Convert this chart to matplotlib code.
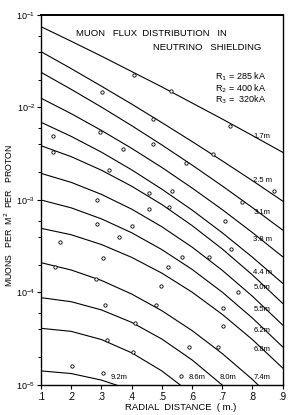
import matplotlib

matplotlib.use("Agg")
import matplotlib.pyplot as plt
from matplotlib.ticker import FixedLocator, LogLocator, NullFormatter

# radial distance grid (m) at which the curves were read
radius = [0.1, 0.2, 0.3, 0.4, 0.5, 0.6, 0.7, 0.8, 0.9]

# muons per m^2 per proton, one curve per shielding depth
flux_1_7 = [0.0747, 0.0520, 0.0359, 0.0245, 0.0167, 0.0112, 0.00751, 0.00498, 0.00328]
flux_2_5 = [0.0401, 0.0263, 0.0170, 0.0109, 0.00687, 0.00429, 0.00265, 0.00162, 0.000975]
flux_3_1 = [0.0240, 0.0157, 0.0101, 0.00637, 0.00394, 0.00239, 0.00142, 0.000828, 0.000474]
flux_3_8 = [0.0126, 0.00857, 0.00565, 0.00362, 0.00225, 0.00135, 0.000788, 0.000445, 0.000244]
flux_4_4 = [0.00692, 0.00487, 0.00329, 0.00212, 0.00131, 0.000780, 0.000443, 0.000241, 0.000126]
flux_5_0 = [0.00386, 0.00294, 0.00210, 0.00141, 0.000894, 0.000530, 0.000296, 0.000155, 7.64e-5]
flux_5_5 = [0.00194, 0.00155, 0.00115, 0.000797, 0.000514, 0.000310, 0.000174, 9.12e-5, 4.46e-5]
flux_6_2 = [0.00100, 0.000822, 0.000625, 0.000443, 0.000291, 0.000178, 0.000101, 5.30e-5, 2.59e-5]
flux_6_8 = [0.000494, 0.000421, 0.000330, 0.000240, 0.000162, 0.000101, 5.81e-5, 3.10e-5, 1.53e-5]
flux_7_4 = [0.000210, 0.000175, 0.000135, 9.63e-5, 6.36e-5, 3.88e-5, 2.19e-5, 1.15e-5, 5.55e-6]
flux_8_0 = [8.79e-5, 7.95e-5, 6.48e-5, 4.76e-5, 3.14e-5, 1.87e-5, 1.00e-5, 4.83e-6]
flux_8_6 = [4.10e-5, 3.80e-5, 3.10e-5, 2.23e-5, 1.42e-5, 8.0e-6]
flux_9_2 = [1.42e-5, 1.33e-5, 1.13e-5, 8.8e-6]

depth_labels = ["1.7m", "2.5 m", "3.1m", "3.8 m", "4.4 m", "5.0m", "5.5m",
                "6.2m", "6.8m", "7.4m", "8.0m", "8.6m", "9.2m"]

# measured points
meas_r = [0.409, 0.302, 0.531, 0.470, 0.725, 0.296, 0.141, 0.373, 0.141, 0.470,
          0.671, 0.581, 0.326, 0.872, 0.533, 0.456, 0.287, 0.767, 0.525, 0.459,
          0.711, 0.285, 0.401, 0.359, 0.162, 0.729, 0.567, 0.658, 0.304, 0.146,
          0.519, 0.282, 0.498, 0.752, 0.313, 0.481, 0.702, 0.410, 0.702, 0.317,
          0.406, 0.589, 0.687, 0.202, 0.304, 0.564]
meas_flux = [0.0224, 0.0148, 0.0152, 0.00745, 0.00631, 0.00547, 0.00492, 0.00353,
             0.00328, 0.00400, 0.00314, 0.00253, 0.00211, 0.00125, 0.00126, 0.00118,
             0.00100, 0.000944, 0.000848, 0.000795, 0.000597, 0.000546, 0.000527,
             0.000396, 0.000352, 0.000293, 0.000242, 0.000240, 0.000234, 0.000190,
             0.000190, 0.000139, 0.000119, 0.000102, 7.33e-5, 7.33e-5, 6.75e-5,
             4.65e-5, 4.35e-5, 3.06e-5, 2.26e-5, 2.58e-5, 2.60e-5, 1.60e-5,
             1.34e-5, 1.25e-5]

x_ticks = [0.1, 0.2, 0.3, 0.4, 0.5, 0.6, 0.7, 0.8, 0.9]
x_tick_labels = [".1", ".2", ".3", ".4", ".5", ".6", ".7", ".8", ".9"]


def main():
    plt.rcParams["font.family"] = ["Liberation Sans", "DejaVu Sans"]
    fig = plt.figure(figsize=(2.91, 4.15), dpi=100, facecolor="white")
    ax = fig.add_axes([0.141, 0.0723, 0.830, 0.8916])

    curves = [flux_1_7, flux_2_5, flux_3_1, flux_3_8, flux_4_4, flux_5_0, flux_5_5,
              flux_6_2, flux_6_8, flux_7_4, flux_8_0, flux_8_6, flux_9_2]
    for f in curves:
        ax.plot(radius[:len(f)], f, color="black", lw=0.8)
    ax.plot(meas_r, meas_flux, "o", ms=2.4, mfc="white", mec="black", mew=0.6)

    ax.set_yscale("log")
    ax.set_xlim(0.1, 0.9)
    ax.set_ylim(1e-5, 1e-1)
    ax.xaxis.set_major_locator(FixedLocator(x_ticks))
    ax.set_xticklabels(x_tick_labels)
    ax.yaxis.set_major_locator(LogLocator(base=10, numticks=10))
    ax.yaxis.set_minor_locator(LogLocator(base=10, subs=(2, 4, 6), numticks=10))
    ax.yaxis.set_minor_formatter(NullFormatter())
    ax.tick_params(axis="x", which="major", labelsize=7, length=3, width=0.8, pad=2)
    ax.tick_params(axis="y", which="major", labelsize=6.5, length=3, width=0.8, pad=1)
    ax.tick_params(axis="y", which="minor", length=2.5, width=0.7)
    for s in ax.spines.values():
        s.set_linewidth(1.0)
    ax.spines["top"].set_linewidth(1.4)

    # depth labels near the right end of each curve
    right_label_y = [4.8e-3, 1.64e-3, 7.4e-4, 3.7e-4, 1.63e-4, 1.12e-4, 6.5e-5,
                     3.84e-5, 2.39e-5, 1.22e-5]
    for lab, yv in zip(depth_labels[:10], right_label_y):
        ax.text(0.833, yv, lab, fontsize=5.5, ha="center", va="center")
    for lab, xv in zip(depth_labels[10:], [0.718, 0.618, 0.359]):
        ax.text(xv, 1.22e-5, lab, fontsize=5.5, ha="center", va="center")

    ax.text(0.455, 0.951, "MUON   FLUX  DISTRIBUTION   IN", transform=ax.transAxes,
            fontsize=6.8, ha="center", va="center")
    ax.text(0.687, 0.913, "NEUTRINO   SHIELDING", transform=ax.transAxes,
            fontsize=6.8, ha="center", va="center")
    for i, t in enumerate(["R$_1$ = 285 kA", "R$_2$ = 400 kA", "R$_3$ =  320kA"]):
        ax.text(0.72, 0.832 - i * 0.031, t, transform=ax.transAxes,
                fontsize=6.5, ha="left", va="center")

    fig.text(0.030, 0.482, "MUONS   PER  M$^2$  PER   PROTON", rotation=90,
             fontsize=6.3, ha="center", va="center")
    fig.text(0.62, 0.019, "RADIAL  DISTANCE  ( m.)", fontsize=6.8,
             ha="center", va="center")

    fig.savefig("out.png", dpi=100, facecolor="white")


if __name__ == "__main__":
    main()
